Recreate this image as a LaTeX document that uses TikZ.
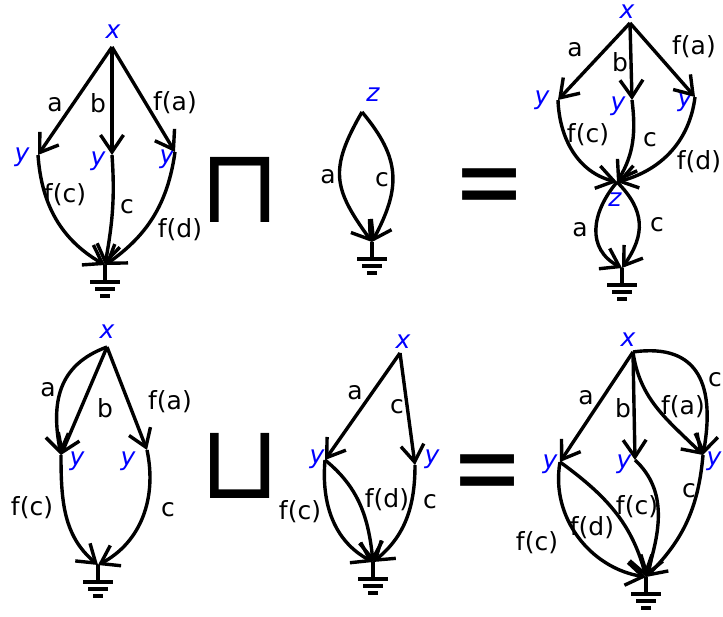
\documentclass[tikz,border=0pt]{standalone}
\usepackage{fontspec}
\setmainfont{DejaVu Sans}
\usetikzlibrary{arrows.meta}
\definecolor{vblue}{RGB}{0,0,255}
\newcommand{\LblSize}{25}
\newcommand{\OpSize}{104}
\newcommand{\EqSize}{86}

\begin{document}
\begin{tikzpicture}[x=1pt, y=1pt,
    edge/.style={line width=3.4pt, -{Straight Barb[length=17pt, width=23pt]}},
    var/.style={text=vblue, font=\fontsize{\LblSize}{\LblSize}\selectfont\itshape, inner sep=0pt},
    elbl/.style={font=\fontsize{\LblSize}{\LblSize}\selectfont, inner sep=0pt},
    oper/.style={font=\fontsize{\OpSize}{\OpSize}\selectfont, inner sep=0pt},
    eqsign/.style={font=\fontsize{\EqSize}{\EqSize}\selectfont, inner sep=0pt, yscale=1.3},
    earth/.pic={\draw[line width=3.4pt] (0,0) -- (0,-17) (-15,-17) -- (15,-17) (-10,-24) -- (10,-24) (-5,-31) -- (5,-31);},
  ]
\useasboundingbox (0,0) rectangle (723,-617);

% --- Top left: x to three y, then to ground ---------------------------------
\coordinate (tl-x) at (112,-47);
\coordinate (tl-y1) at (38,-155);
\coordinate (tl-y2) at (112,-155);
\coordinate (tl-y3) at (175,-152);
\coordinate (tl-g) at (105,-265);
\node[var] (tl-xl) at (113,-32) {x};
\node[var] (tl-y1l) at (22,-157) {y};
\node[var] (tl-y2l) at (98,-161) {y};
\node[var] (tl-y3l) at (167,-159) {y};
\draw[edge] (tl-x) -- (tl-y1);
\draw[edge] (tl-x) -- (tl-y2);
\draw[edge] (tl-x) -- (tl-y3);
\draw[edge] (tl-y1) to[out=-86, in=150] (tl-g);
\draw[edge] (tl-y2) to[out=-86, in=80] (tl-g);
\draw[edge] (tl-y3) to[out=-98, in=35] (tl-g);
\pic at (tl-g) {earth};
\node[elbl] (tl-a) at (55,-105) {a};
\node[elbl] (tl-b) at (98,-103) {b};
\node[elbl] (tl-fa) at (175,-103) {f(a)};
\node[elbl] (tl-fc) at (65,-195) {f(c)};
\node[elbl] (tl-c) at (127,-207) {c};
\node[elbl] (tl-fd) at (180,-230) {f(d)};

% --- Top middle: z to ground ------------------------------------------------
\coordinate (tm-z) at (362,-112);
\coordinate (tm-g) at (372,-242);
\node[var] (tm-zl) at (373,-95) {z};
\draw[edge] (tm-z) to[out=-120, in=126, looseness=1.3] (tm-g);
\draw[edge] (tm-z) to[out=-50, in=62, looseness=1.2] (tm-g);
\pic at (tm-g) {earth};
\node[elbl] (tm-a) at (328,-177) {a};
\node[elbl] (tm-c) at (382,-180) {c};

% --- Top right: the meet ----------------------------------------------------
\coordinate (tr-x) at (630,-23);
\coordinate (tr-y1) at (558,-100);
\coordinate (tr-y2) at (632,-100);
\coordinate (tr-y3) at (695,-97);
\coordinate (tr-z) at (617,-182);
\coordinate (tr-g) at (622,-268);
\node[var] (tr-xl) at (627,-12) {x};
\node[var] (tr-y1l) at (542,-100) {y};
\node[var] (tr-y2l) at (618,-106) {y};
\node[var] (tr-y3l) at (685,-102) {y};
\node[var] (tr-zl) at (615,-200) {z};
\draw[edge] (tr-x) -- (tr-y1);
\draw[edge] (tr-x) -- (tr-y2);
\draw[edge] (tr-x) -- (tr-y3);
\draw[edge] (tr-y1) to[out=-88, in=166] (tr-z);
\draw[edge] (tr-y2) to[out=-83, in=59] (tr-z);
\draw[edge] (tr-y3) to[out=-97, in=15] (tr-z);
\draw[edge] (tr-z) to[out=-130, in=152, looseness=1.2] (tr-g);
\draw[edge] (tr-z) to[out=-45, in=55, looseness=1.2] (tr-g);
\pic at (tr-g) {earth};
\node[elbl] (tr-a) at (575,-50) {a};
\node[elbl] (tr-b) at (620,-62) {b};
\node[elbl] (tr-fa) at (694,-47) {f(a)};
\node[elbl] (tr-fc) at (588,-135) {f(c)};
\node[elbl] (tr-c) at (650,-140) {c};
\node[elbl] (tr-fd) at (699,-162) {f(d)};
\node[elbl] (tr-a2) at (580,-230) {a};
\node[elbl] (tr-c2) at (657,-225) {c};

% --- Bottom left --------------------------------------------------------------
\coordinate (bl-x) at (107,-347);
\coordinate (bl-y1) at (61,-455);
\coordinate (bl-y2) at (147,-450);
\coordinate (bl-g) at (98,-565);
\node[var] (bl-xl) at (107,-332) {x};
\node[var] (bl-y1l) at (77,-461) {y};
\node[var] (bl-y2l) at (128,-461) {y};
\draw[edge] (bl-x) to[out=-160, in=101, looseness=1.15] (bl-y1);
\draw[edge] (bl-x) -- (bl-y1);
\draw[edge] (bl-x) -- (bl-y2);
\draw[edge] (bl-y1) to[out=-90, in=140] (bl-g);
\draw[edge] (bl-y2) to[out=-78, in=28] (bl-g);
\pic at (bl-g) {earth};
\node[elbl] (bl-a) at (48,-390) {a};
\node[elbl] (bl-b) at (105,-408) {b};
\node[elbl] (bl-fa) at (170,-402) {f(a)};
\node[elbl] (bl-fc) at (32,-508) {f(c)};
\node[elbl] (bl-c) at (168,-510) {c};

% --- Bottom middle ------------------------------------------------------------
\coordinate (bm-x) at (400,-353);
\coordinate (bm-y1) at (325,-460);
\coordinate (bm-y2) at (415,-465);
\coordinate (bm-g) at (373,-562);
\node[var] (bm-xl) at (403,-342) {x};
\node[var] (bm-y1l) at (317,-459) {y};
\node[var] (bm-y2l) at (432,-459) {y};
\draw[edge] (bm-x) -- (bm-y1);
\draw[edge] (bm-x) -- (bm-y2);
\draw[edge] (bm-y1) to[out=-95, in=152] (bm-g);
\draw[edge] (bm-y1) to[out=-39, in=96] (bm-g);
\draw[edge] (bm-y2) to[out=-90, in=39] (bm-g);
\pic at (bm-g) {earth};
\node[elbl] (bm-a) at (355,-393) {a};
\node[elbl] (bm-c) at (397,-407) {c};
\node[elbl] (bm-fc) at (300,-512) {f(c)};
\node[elbl] (bm-fd) at (387,-500) {f(d)};
\node[elbl] (bm-c2) at (430,-502) {c};

% --- Bottom right: the join ---------------------------------------------------
\coordinate (br-x) at (633,-352);
\coordinate (br-y1) at (560,-462);
\coordinate (br-y2) at (635,-460);
\coordinate (br-y3) at (703,-455);
\coordinate (br-g) at (646,-577);
\node[var] (br-xl) at (628,-340) {x};
\node[var] (br-y1l) at (550,-464) {y};
\node[var] (br-y2l) at (624,-464) {y};
\node[var] (br-y3l) at (714,-461) {y};
\draw[edge] (br-x) -- (br-y1);
\draw[edge] (br-x) -- (br-y2);
\draw[edge] (br-x) to[out=-82, in=135] (br-y3);
\draw[edge] (br-x) to[out=8, in=80, looseness=1.4] (br-y3);
\draw[edge] (br-y1) to[out=-100, in=171] (br-g);
\draw[edge] (br-y1) to[out=-36, in=105] (br-g);
\draw[edge] (br-y2) to[out=-43, in=73] (br-g);
\draw[edge] (br-y3) to[out=-95, in=45] (br-g);
\pic at (br-g) {earth};
\node[elbl] (br-a) at (586,-398) {a};
\node[elbl] (br-b) at (623,-408) {b};
\node[elbl] (br-fa) at (683,-407) {f(a)};
\node[elbl] (br-c) at (715,-380) {c};
\node[elbl] (br-fc) at (537,-543) {f(c)};
\node[elbl] (br-fd) at (592,-528) {f(d)};
\node[elbl] (br-fc2) at (637,-507) {f(c)};
\node[elbl] (br-c2) at (689,-491) {c};

% --- Operators ------------------------------------------------------------
\node[oper] (meet) at (240,-190) {⊓};
\node[eqsign] (eq1) at (490,-194) {=};
\node[oper] (join) at (240,-466) {⊔};
\node[eqsign] (eq2) at (488,-480) {=};
\end{tikzpicture}
\end{document}
